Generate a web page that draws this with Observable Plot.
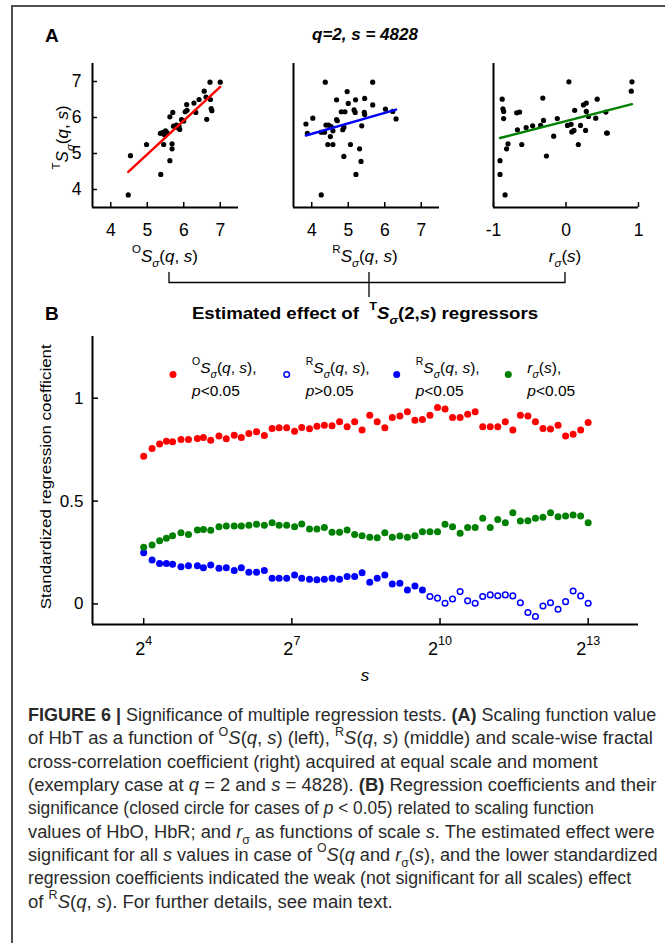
<!DOCTYPE html>
<html><head><meta charset="utf-8">
<script src="https://cdn.jsdelivr.net/npm/d3@7"></script>
<script src="https://cdn.jsdelivr.net/npm/@observablehq/plot@0.6"></script>
<style>
html,body{margin:0;padding:0;background:#fff;}
#fig{position:relative;width:665px;height:943px;overflow:hidden;background:#fff;font-family:"Liberation Sans",Arial,Helvetica,sans-serif;}
#frameL{position:absolute;left:11px;top:6px;width:2px;height:940px;background:#505050;}
#frameT{position:absolute;left:11px;top:5px;width:660px;height:2px;background:#505050;}
.abs{position:absolute;white-space:nowrap;line-height:1;width:max-content;}
.sup{font-size:0.68em;position:relative;top:-0.72em;font-style:normal;}
.sub{font-size:0.68em;position:relative;top:0.5em;}
#fig svg{position:absolute;overflow:visible;}
</style></head>
<body><div id="fig"><div id="frameL"></div><div id="frameT"></div></div>
<script>
// ---------------- Panel A data ----------------
const domainT = [3.5, 7.5];
const domainOR = [3.5, 7.5];
const domainC = [-1, 1];
const yTicksA = [4, 5, 6, 7];
const xTicksOR = [4, 5, 6, 7];
const xTicksC = [-1, 0, 1];

const oX = [4.48,4.54,4.98,5.37,5.36,5.42,5.47,5.50,5.54,5.45,5.62,5.68,5.68,5.62,5.70,5.72,5.80,5.83,5.89,5.87,5.94,6.00,6.04,6.09,6.08,6.33,6.28,6.42,6.56,6.63,6.61,6.73,6.75,6.77,6.72,7.00];
const oY = [3.85,4.94,5.25,4.42,5.56,5.58,5.52,5.63,5.58,5.25,4.80,5.27,5.13,6.02,6.14,5.76,5.79,5.72,5.67,5.76,5.94,5.90,6.16,6.20,6.36,6.14,6.40,6.50,6.73,5.95,6.57,6.50,6.25,6.19,6.98,6.98];
const oLineX = [4.48, 7.0];
const oLineY = [4.49, 6.85];

const rX = [4.37,5.67,3.84,3.88,4.03,4.97,4.68,5.00,5.20,5.45,5.67,6.02,6.22,6.31,4.81,4.91,5.16,5.19,5.44,5.45,4.68,4.70,4.88,4.85,5.37,4.26,4.35,4.39,4.46,4.53,4.58,4.51,4.44,4.58,5.06,5.31,4.88,5.35,5.21,4.26];
const rY = [6.98,6.98,5.82,5.56,5.98,6.72,6.49,6.39,6.49,6.53,6.35,6.23,6.17,5.96,6.16,6.16,6.21,6.14,6.14,6.08,5.94,5.91,5.73,5.66,5.77,5.59,5.59,5.79,5.79,5.75,5.63,5.47,5.25,5.25,5.25,5.13,4.92,4.78,4.42,3.85];
const rLineX = [3.84, 6.31];
const rLineY = [5.50, 6.22];

const cX = [0.91,0.90,0.04,-0.88,-0.87,-0.86,-0.86,-0.68,-0.64,-0.32,0.43,0.24,0.28,0.12,0.28,0.55,-0.67,-0.55,-0.46,-0.35,-0.31,-0.12,0.02,0.07,0.08,0.11,0.20,0.27,0.31,0.41,0.56,0.57,-0.80,-0.82,-0.61,-0.17,0.17,-0.27,-0.91,-0.91,-0.84];
const cY = [6.99,6.73,6.99,6.51,6.24,6.17,5.97,6.13,6.15,6.54,6.51,6.35,6.40,6.20,6.17,6.15,5.66,5.72,5.77,5.78,5.92,5.97,5.78,5.81,5.60,5.64,5.78,5.64,6.03,5.98,5.57,5.57,5.27,5.13,5.25,5.48,5.25,4.93,4.80,4.42,3.85];
const cLineX = [-0.91, 0.91];
const cLineY = [5.43, 6.37];

// ---------------- Panel B data ----------------
const bXDomain = [7.8, 16600];
const bYDomain = [-0.1, 1.3];
const bXTicks = [16, 128, 1024, 8192];
const bYTicks = [0, 0.5, 1];
const bScales = [16,18,20,22,24,27,30,34,37,41,46,51,57,63,70,78,87,97,107,119,133,147,164,182,202,225,250,278,309,343,382,424,472,524,583,648,720,800,889,989,1099,1221,1358,1509,1677,1864,2072,2303,2560,2846,3163,3516,3908,4344,4828,5367,5965,6631,7370,8192];
const coefO = [0.718,0.756,0.777,0.791,0.788,0.799,0.799,0.804,0.809,0.796,
 0.816,0.803,0.820,0.809,0.828,0.837,0.819,0.853,0.856,0.856,
 0.840,0.858,0.851,0.864,0.869,0.866,0.885,0.861,0.885,0.845,
 0.917,0.885,0.856,0.906,0.914,0.934,0.893,0.897,0.917,0.955,
 0.947,0.906,0.906,0.922,0.934,0.861,0.861,0.861,0.885,0.845,
 0.917,0.913,0.885,0.853,0.850,0.869,0.816,0.825,0.845,0.882];
const coefR = [0.249,0.214,0.197,0.197,0.193,0.181,0.186,0.186,0.176,0.189,
 0.173,0.176,0.162,0.176,0.154,0.154,0.162,0.125,0.125,0.125,
 0.141,0.125,0.120,0.117,0.120,0.125,0.120,0.133,0.133,0.152,
 0.105,0.125,0.141,0.097,0.100,0.068,0.087,0.068,0.036,0.028,
 0.003,0.024,0.060,0.015,0.003,0.036,0.044,0.040,0.044,0.039,
 0.006,-0.042,-0.061,-0.010,0.006,-0.026,0.011,0.063,0.039,0.003];
const rSig = [1,1,1,1,1,1,1,1,1,1, 1,1,1,1,1,1,1,1,1,1, 1,1,1,1,1,1,1,1,1,1, 1,1,1,1,1,1,1,1,0,0, 0,0,0,0,0,0,0,0,0,0, 0,0,0,0,0,0,0,0,0,0];
const coefC = [0.275,0.286,0.307,0.319,0.332,0.346,0.338,0.359,0.362,0.358,
 0.375,0.379,0.379,0.379,0.383,0.387,0.383,0.395,0.383,0.383,
 0.375,0.388,0.364,0.364,0.372,0.348,0.348,0.359,0.337,0.332,
 0.324,0.322,0.346,0.324,0.330,0.324,0.332,0.351,0.351,0.351,
 0.387,0.375,0.343,0.371,0.371,0.416,0.372,0.411,0.395,0.443,
 0.403,0.404,0.416,0.421,0.443,0.424,0.427,0.432,0.427,0.395];

const RED = '#ff0000', BLUE = '#0000ff', GREEN = '#008000';

// ---------------- helpers ----------------
const FONT = '"Liberation Sans", Arial, Helvetica, sans-serif';
const NARROW = '"Liberation Sans Narrow", "Liberation Sans", Arial, sans-serif';
const fig = document.getElementById('fig');

function label(html, o) {
  const size = o.size || 16;
  const el = document.createElement('div');
  el.className = 'abs';
  el.innerHTML = html;
  el.style.fontFamily = o.family || FONT;
  el.style.fontSize = size + 'px';
  el.style.fontWeight = o.weight || 'normal';
  el.style.fontStyle = o.italic ? 'italic' : 'normal';
  el.style.color = o.color || '#000';
  const base = 0.85 * size;
  el.style.left = o.x + 'px';
  el.style.top = (o.y - base) + 'px';
  el.style.transformOrigin = `0px ${base}px`;
  fig.appendChild(el);
  const w = el.offsetWidth;
  const s = o.width ? o.width / w : 1;
  const shift = o.anchor === 'middle' ? -50 : o.anchor === 'end' ? -100 : 0;
  let t = '';
  if (o.rotate) t += `rotate(${o.rotate}deg) `;
  t += `scaleX(${s}) translateX(${shift}%)`;
  el.style.transform = t;
  return el;
}

const STYLE = {fontFamily: FONT, fontSize: '17px', color: '#000', background: 'transparent', overflow: 'visible'};

function scatter(o) {
  const FW = o.fw, FH = 144, ML = 36, MR = 10, MT = 6, MB = 38;
  const idx = d3.range(o.xs.length);
  const lineData = o.lx.map((x, i) => ({x, y: o.ly[i]}));
  const marks = [
    Plot.ruleY([domainT[0]], {stroke: '#000', strokeWidth: 2}),
    Plot.ruleX([o.xDomain[0]], {stroke: '#000', strokeWidth: 2}),
    Plot.tickX(o.xTicks, {x: d => d, insetTop: FH - 5, strokeWidth: 1.5}),
    Plot.axisX(o.xTicks, {tickSize: 0, tickPadding: 16, fontSize: 17.5, tickFormat: d => String(d)}),
    Plot.dot(idx, {x: i => o.xs[i], y: i => o.ys[i], r: 2.6, fill: '#000'}),
    Plot.line(lineData, {x: 'x', y: 'y', stroke: o.color, strokeWidth: 2.4})
  ];
  if (o.showY) {
    marks.push(Plot.tickY(yTicksA, {y: d => d, insetRight: FW - 5, strokeWidth: 1.5}));
    marks.push(Plot.axisY(yTicksA, {tickSize: 0, tickPadding: 11, fontSize: 17.5, tickFormat: d => String(d)}));
  }
  const svg = Plot.plot({
    width: FW + ML + MR, height: FH + MT + MB,
    marginLeft: ML, marginRight: MR, marginTop: MT, marginBottom: MB,
    x: {domain: o.xDomain, axis: null, label: null},
    y: {domain: domainT, axis: null, label: null},
    style: STYLE, marks
  });
  svg.style.left = (o.left - ML) + 'px';
  svg.style.top = (63 - MT) + 'px';
  fig.appendChild(svg);
}

// ---------------- Panel A ----------------
scatter({xs: oX, ys: oY, lx: oLineX, ly: oLineY, color: RED, xDomain: domainOR, xTicks: xTicksOR, left: 92, fw: 146, showY: true});
scatter({xs: rX, ys: rY, lx: rLineX, ly: rLineY, color: BLUE, xDomain: domainOR, xTicks: xTicksOR, left: 293, fw: 146, showY: false});
scatter({xs: cX, ys: cY, lx: cLineX, ly: cLineY, color: GREEN, xDomain: domainC, xTicks: xTicksC, left: 493, fw: 145, showY: false});

label('A', {x: 45, y: 42, size: 19, weight: 'bold'});
label('q=2, s = 4828', {x: 365, y: 40, size: 17, weight: 'bold', italic: true, anchor: 'middle'});
const SQS = '<i>S</i><span class="sub"><i>σ</i></span>(<i>q</i>, <i>s</i>)';
label('<span class="sup">T</span>' + SQS, {x: 68, y: 137, size: 17, rotate: -90, anchor: 'middle'});
label('<span class="sup">O</span>' + SQS, {x: 165, y: 262, size: 17, anchor: 'middle'});
label('<span class="sup">R</span>' + SQS, {x: 365, y: 262, size: 17, anchor: 'middle'});
label('<i>r</i><span class="sub"><i>σ</i></span>(<i>s</i>)', {x: 565, y: 262, size: 17, anchor: 'middle'});

// ---------------- Panel B ----------------
{
  const FW = 546, FH = 288, ML = 60, MR = 20, MT = 12, MB = 45;
  const idx = d3.range(bScales.length);
  const bSvg = Plot.plot({
    width: FW + ML + MR, height: FH + MT + MB,
    marginLeft: ML, marginRight: MR, marginTop: MT, marginBottom: MB,
    x: {type: 'log', base: 2, domain: bXDomain, axis: null, label: null},
    y: {domain: bYDomain, axis: null, label: null},
    style: STYLE,
    marks: [
      Plot.ruleY([bYDomain[0]], {stroke: '#000', strokeWidth: 2}),
      Plot.ruleX([bXDomain[0]], {stroke: '#000', strokeWidth: 2}),
      Plot.tickX(bXTicks, {x: d => d, insetTop: FH - 6, strokeWidth: 1.5}),
      Plot.tickY(bYTicks, {y: d => d, insetRight: FW - 6, strokeWidth: 1.5}),
      Plot.axisX(bXTicks, {tickSize: 0, tickPadding: 18, fontSize: 18, tickFormat: d => '2^' + Math.round(Math.log2(d))}),
      Plot.axisY(bYTicks, {tickSize: 0, tickPadding: 9, fontSize: 17, tickFormat: d => String(d)}),
      Plot.dot(idx, {x: i => bScales[i], y: i => coefO[i], r: 3.5, fill: RED}),
      Plot.dot(idx.filter(i => rSig[i]), {x: i => bScales[i], y: i => coefR[i], r: 3.5, fill: BLUE}),
      Plot.dot(idx.filter(i => !rSig[i]), {x: i => bScales[i], y: i => coefR[i], r: 2.8, fill: 'none', stroke: BLUE, strokeWidth: 1.5}),
      Plot.dot(idx, {x: i => bScales[i], y: i => coefC[i], r: 3.5, fill: GREEN})
    ]
  });
  d3.select(bSvg).selectAll('[aria-label="x-axis tick label"] text').each(function () {
    const parts = this.textContent.split('^');
    if (parts.length < 2) return;
    const t = d3.select(this);
    t.text(null);
    t.append('tspan').text(parts[0]);
    t.append('tspan').attr('dy', -10).style('font-size', '12.5px').text(parts[1]);
  });
  bSvg.style.left = (92 - ML) + 'px';
  bSvg.style.top = (336 - MT) + 'px';
  fig.appendChild(bSvg);
}

label('B', {x: 45, y: 320, size: 19, weight: 'bold'});
label('Estimated effect of &nbsp;<span class="sup">T</span><i>S</i><span class="sub"><i>σ</i></span>(2,<i>s</i>) regressors', {x: 365, y: 319, size: 17, weight: 'bold', anchor: 'middle', width: 346});
label('Standardized regression coefficient', {x: 51, y: 477, size: 15, rotate: -90, anchor: 'middle', width: 265});
label('s', {x: 365, y: 681, size: 17, italic: true, anchor: 'middle'});

// legend
const legendItems = [
  {color: RED, open: false, sup: 'O', l2: '<i>p</i>&lt;0.05', x: 173},
  {color: BLUE, open: true, sup: 'R', l2: '<i>p</i>&gt;0.05', x: 286.7},
  {color: BLUE, open: false, sup: 'R', l2: '<i>p</i>&lt;0.05', x: 396.7},
  {color: GREEN, open: false, sup: null, l2: '<i>p</i>&lt;0.05', x: 508.3}
];

// overlay: bracket, legend markers
const ov = d3.create('svg').attr('width', 665).attr('height', 943)
  .style('left', '0px').style('top', '0px');
ov.append('path').attr('d', 'M169,272 V282.5 H565 V272 M369,272 V297').attr('fill', 'none').attr('stroke', '#000').attr('stroke-width', 1.3);
legendItems.forEach(it => {
  const c = ov.append('circle').attr('cx', it.x).attr('cy', 374.5);
  if (it.open) c.attr('r', 2.8).attr('fill', 'none').attr('stroke', it.color).attr('stroke-width', 1.5);
  else c.attr('r', 3.5).attr('fill', it.color);
  const l1 = it.sup ? `<span class="sup">${it.sup}</span>` + SQS + ',' : '<i>r</i><span class="sub"><i>σ</i></span>(<i>s</i>),';
  label(l1, {x: it.x + 19, y: 373, size: 15.5});
  label(it.l2, {x: it.x + 19, y: 396, size: 15.5});
});
fig.appendChild(ov.node());

// ---------------- Caption ----------------
const captionLines = [
 '<b>FIGURE 6 |</b> Significance of multiple regression tests. <b>(A)</b> Scaling function value',
 'of HbT as a function of <span class="sup">O</span><i>S</i>(<i>q</i>, <i>s</i>) (left), <span class="sup">R</span><i>S</i>(<i>q</i>, <i>s</i>) (middle) and scale-wise fractal',
 'cross-correlation coefficient (right) acquired at equal scale and moment',
 '(exemplary case at <i>q</i> = 2 and <i>s</i> = 4828). <b>(B)</b> Regression coefficients and their',
 'significance (closed circle for cases of <i>p</i> &lt; 0.05) related to scaling function',
 'values of HbO, HbR; and <i>r</i><span class="sub">σ</span> as functions of scale <i>s</i>. The estimated effect were',
 'significant for all <i>s</i> values in case of <span class="sup">O</span><i>S</i>(<i>q</i> and <i>r</i><span class="sub">σ</span>(<i>s</i>), and the lower standardized',
 'regression coefficients indicated the weak (not significant for all scales) effect',
 'of <span class="sup">R</span><i>S</i>(<i>q</i>, <i>s</i>). For further details, see main text.'
];
const captionRight = [656, 652, 597, 656, 593, 654, 657, 631, 392];
captionLines.forEach((html, k) => {
  label(html, {x: 27.5, y: 722 + 23.3 * k, size: 17.5, family: NARROW, color: '#2a2a2a', width: captionRight[k] - 27.5});
});
</script></body></html>
